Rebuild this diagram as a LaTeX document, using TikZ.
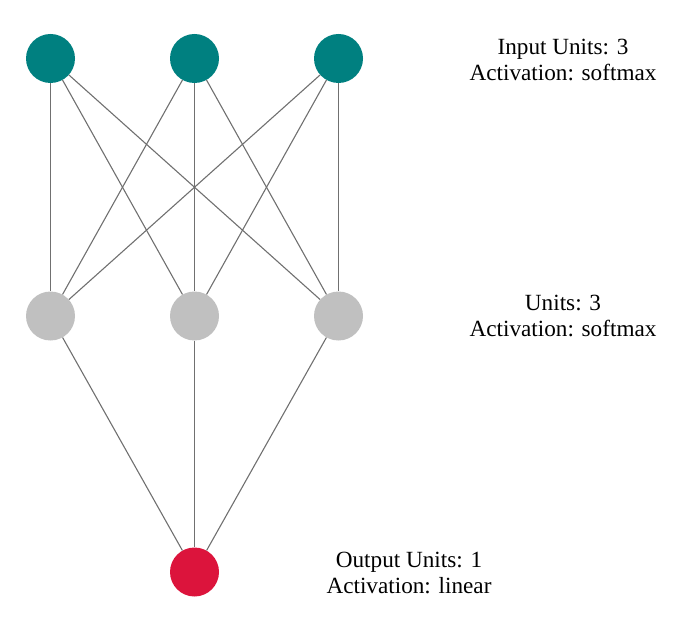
\documentclass[tikz,border=0pt]{standalone}
\usepackage{fontspec}
\setmainfont{Liberation Serif}
\definecolor{inputc}{HTML}{008080}
\definecolor{hiddenc}{HTML}{C0C0C0}
\definecolor{outputc}{HTML}{DC143C}
\definecolor{edgec}{HTML}{707070}
\begin{document}
\begin{tikzpicture}[x=1pt, y=-1pt,
    unit/.style={circle, minimum size=49pt, inner sep=0pt},
    lbl/.style={align=center, inner sep=0pt, font=\fontsize{23.2}{26}\selectfont},
    conn/.style={draw=edgec, line width=1.1pt}]

  %% ════ 输入层 ════
  \node[unit, fill=inputc] (in1) at (50.5,58.5) {};
  \node[unit, fill=inputc] (in2) at (194.5,58.5) {};
  \node[unit, fill=inputc] (in3) at (338.5,58.5) {};

  %% ════ 隐藏层 ════
  \node[unit, fill=hiddenc] (hid1) at (50.5,316) {};
  \node[unit, fill=hiddenc] (hid2) at (194.5,316) {};
  \node[unit, fill=hiddenc] (hid3) at (338.5,316) {};

  %% ════ 输出层 ════
  \node[unit, fill=outputc] (out1) at (194.5,572) {};

  %% ════ 连线（全连接）════
  \foreach \i in {1,2,3} {
    \foreach \j in {1,2,3} {
      \draw[conn] (in\i) -- (hid\j);
    }
    \draw[conn] (hid\i) -- (out1);
  }

  %% ════ 标签 ════
  \node[lbl] (inlbl) at (563,60) {Input Units: 3\\Activation: softmax};
  \node[lbl] (hidlbl) at (563,316) {Units: 3\\Activation: softmax};
  \node[lbl] (outlbl) at (409,573) {Output Units: 1\\Activation: linear};

  % 钉死画布
  \pgfresetboundingbox
  \path[use as bounding box] (0,0) rectangle (696,631);
\end{tikzpicture}
\end{document}
